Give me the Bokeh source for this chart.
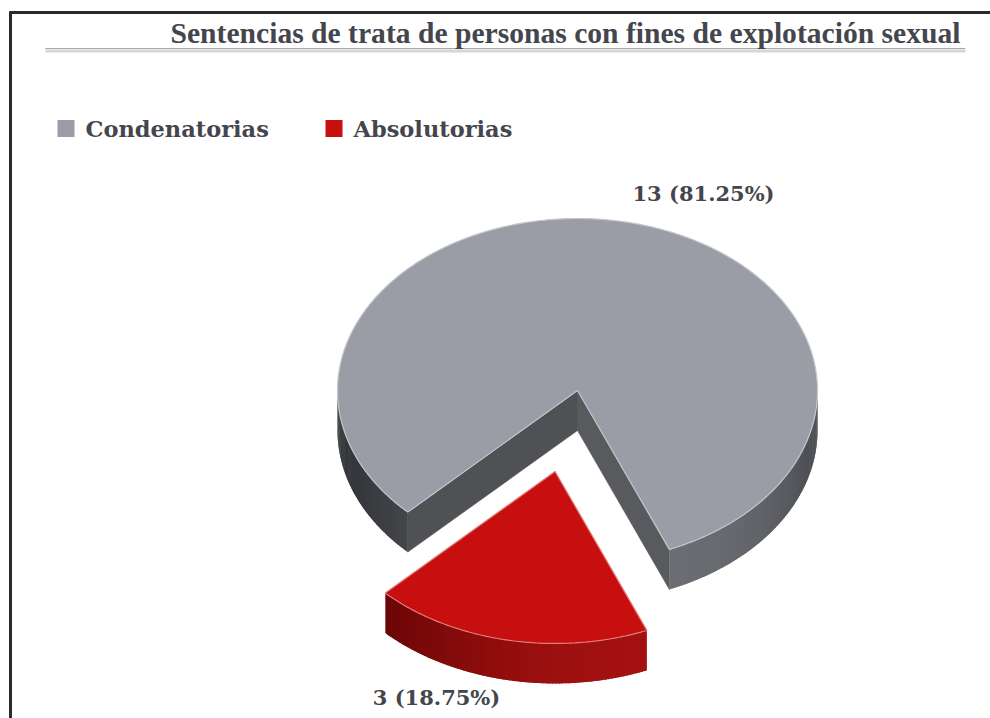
import numpy as np
from bokeh.plotting import figure
from bokeh.models import Range1d
from bokeh.core.properties import value
from bokeh.embed import file_html
from bokeh.resources import INLINE

# ---------------- data ----------------
title_text = "Sentencias de trata de personas con fines de explotación sexual"
categories = ["Condenatorias", "Absolutorias"]
counts = [13, 3]
total = sum(counts)
point_labels = [f"{c} ({c / total * 100:.2f}%)" for c in counts]

# ---------------- style ----------------
top_colors = ["#9a9da6", "#c70f0f"]
wall_dark = ["#35373b", "#560202"]
wall_light = ["#6b6d72", "#a31111"]
radial_colors = ["#4f5155", "#585a5e"]
edge_colors = ["#c4c7cd", "#e27c7c"]
explode = [0.0, 0.48]
text_color = "#44464d"
serif = value("DejaVu Serif")
title_font = value("Liberation Serif")

CX, CY, RX, RY, DEPTH = 577.0, 390.0, 240.0, 172.0, 40.0
START = 292.5  # first slice start angle (deg, counter-clockwise)
LIGHT_DIR = 290.0

W, H = 990, 718
p = figure(width=W, height=H, output_backend="svg", toolbar_location=None,
           x_range=Range1d(0, W), y_range=Range1d(H, 0),
           x_axis_location=None, y_axis_location=None, min_border=0,
           outline_line_color=None, background_fill_color="white",
           border_fill_color="white")
p.grid.visible = False


def pt(th_deg, ox, oy, dz=0.0):
    t = np.radians(th_deg)
    return CX + ox + RX * np.cos(t), CY + oy - RY * np.sin(t) + dz


def lerp_color(c1, c2, f):
    a = [int(c1[i:i + 2], 16) for i in (1, 3, 5)]
    b = [int(c2[i:i + 2], 16) for i in (1, 3, 5)]
    return "#%02x%02x%02x" % tuple(int(round(a[k] + (b[k] - a[k]) * f)) for k in range(3))


def front_intervals(a0, a1):
    out = []
    for k in range(-1, 3):
        lo, hi = 180 + 360 * k, 360 + 360 * k
        s, e = max(a0, lo), min(a1, hi)
        if e > s:
            out.append((s, e))
    return out


angle = START
for i, c in enumerate(counts):
    span = c / total * 360.0
    a0, a1 = angle, angle + span
    angle = a1
    mid = np.radians((a0 + a1) / 2)
    ox = explode[i] * RX * np.cos(mid)
    oy = -explode[i] * RY * np.sin(mid)
    ax, ay = CX + ox, CY + oy

    # radial walls
    rxs, rys, rcols = [], [], []
    for edge, nrm, col in ((a0, a0 - 90, radial_colors[1]), (a1, a1 + 90, radial_colors[0])):
        if np.sin(np.radians(nrm)) < 0:
            ex, ey = pt(edge, ox, oy)
            rxs.append([ax, ex, ex, ax])
            rys.append([ay, ey, ey + DEPTH, ay + DEPTH])
            rcols.append(col)
    if rxs:
        p.patches(rxs, rys, fill_color=rcols, line_color=rcols, line_width=0.6)

    # outer curved wall (overlapping strips for a smooth gradient)
    xs_list, ys_list, cols = [], [], []
    for s, e in front_intervals(a0, a1):
        n = max(2, int((e - s) / 0.75) + 1)
        th = np.linspace(s, e, n)
        for j in range(n - 1):
            t0, t1 = th[j], min(th[j + 1] + 0.5, e)
            tt = np.linspace(t0, t1, 3)
            xx, yy = pt(tt, ox, oy)
            f = max(0.0, np.cos(np.radians((th[j] + th[j + 1]) / 2 - LIGHT_DIR))) ** 1.5
            xs_list.append(list(xx) + list(xx[::-1]))
            ys_list.append(list(yy) + list(yy[::-1] + DEPTH))
            cols.append(lerp_color(wall_dark[i], wall_light[i], f))
    p.patches(xs_list, ys_list, fill_color=cols, line_color=None)

    # top face
    th = np.linspace(a0, a1, max(3, int(span * 2)))
    tx, ty = pt(th, ox, oy)
    p.patch(np.concatenate([[ax], tx, [ax]]), np.concatenate([[ay], ty, [ay]]),
            fill_color=top_colors[i], line_color=edge_colors[i], line_width=1.2)

# ---------------- border & title ----------------
p.line([10, 10], [11, H], line_color="#2a2a2a", line_width=3)
p.line([9, W], [12, 12], line_color="#2a2a2a", line_width=3)
p.line([45, 965], [48, 48], line_color="#a9a9a9", line_width=1)
p.line([45, 965], [50.5, 50.5], line_color="#d6d6d6", line_width=3)
p.text(x=[960], y=[32], text=[title_text], text_align="right", text_baseline="alphabetic",
       text_font=title_font, text_font_style="bold", text_font_size="29.6px",
       text_color=text_color)

# ---------------- legend ----------------
leg_x = [57, 325]
p.rect(x=[lx + 8.5 for lx in leg_x], y=[128, 128], width=17, height=17,
       fill_color=top_colors, line_color=None)
p.text(x=[lx + 28 for lx in leg_x], y=[128, 128], text=categories,
       text_baseline="alphabetic", text_font=serif, text_font_style="bold",
       text_font_size="22.5px", text_color=text_color)

# ---------------- data labels ----------------
p.text(x=[703, 436], y=[193, 697], text=point_labels, text_align="center",
       text_baseline="alphabetic", text_font=serif, text_font_style="bold",
       text_font_size="21px", text_color=text_color)

open("out.html", "w").write(file_html(p, INLINE))
